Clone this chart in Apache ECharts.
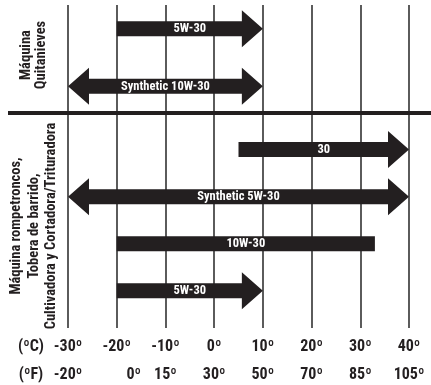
<!DOCTYPE html>
<html>
<head>
<meta charset="utf-8">
<script src="https://cdn.jsdelivr.net/npm/echarts@6/dist/echarts.min.js"></script>
<style>html,body{margin:0;padding:0;background:#fff}#c{width:431px;height:385px}</style>
</head>
<body>
<div id="c"></div>
<script>
// ---- data ----
const tempTicksC = [-30, -20, -10, 0, 10, 20, 30, 40];
const labelsC = ['-30º', '-20º', '-10º', '0º', '10º', '20º', '30º', '40º'];
const labelsF = ['-20º', '0º', '15º', '30º', '50º', '70º', '85º', '105º'];

const snowGroup = 'Máquina\nQuitanieves';
const snowOils = ['5W-30', 'Synthetic 10W-30'];
const snowStart = [-20, -30];
const snowEnd = [10, 10];
const snowLeftHead = [0, 1];
const snowRightHead = [1, 1];

const otherGroup = 'Máquina rompetroncos,\nTobera de barrido,\nCultivadora y Cortadora/Trituradora';
const otherOils = ['30', 'Synthetic 5W-30', '10W-30', '5W-30'];
const otherStart = [5, -30, -20, -20];
const otherEnd = [40, 40, 33, 10];
const otherLeftHead = [0, 1, 0, 0];
const otherRightHead = [1, 1, 0, 1];

// ---- chart ----
const FONT = '"Roboto Condensed", "Open Sans Condensed", sans-serif';
const INK = '#231f20';

function makeData(names, s, e, lh, rh) {
  return names.map((n, i) => [s[i], e[i], lh[i], rh[i], i]);
}

function arrowRenderer(names) {
  return function (params, api) {
    const row = api.value(4);
    const p0 = api.coord([api.value(0), row]);
    const p1 = api.coord([api.value(1), row]);
    const lh = api.value(2), rh = api.value(3);
    const bh = 7.5, hh = 18.5, hl = 21;
    const cy = p0[1], xl = p0[0], xr = p1[0];
    const pts = [];
    if (lh) { pts.push([xl, cy], [xl + hl, cy - hh], [xl + hl, cy - bh]); } else { pts.push([xl, cy - bh]); }
    if (rh) { pts.push([xr - hl, cy - bh], [xr - hl, cy - hh], [xr, cy], [xr - hl, cy + hh], [xr - hl, cy + bh]); }
    else { pts.push([xr, cy - bh], [xr, cy + bh]); }
    if (lh) { pts.push([xl + hl, cy + bh], [xl + hl, cy + hh]); } else { pts.push([xl, cy + bh]); }
    return {
      type: 'group',
      children: [
        { type: 'polygon', shape: { points: pts }, style: { fill: INK } },
        { type: 'text', style: { text: names[params.dataIndex], x: (xl + xr) / 2, y: cy + 0.5,
            align: 'center', verticalAlign: 'middle', fill: '#fff', font: 'bold 12.5px ' + FONT } }
      ]
    };
  };
}

const hiddenX = (g) => ({ type: 'value', gridIndex: g, min: -30, max: 40, interval: 10, show: false });

const chart = echarts.init(document.getElementById('c'), null, { renderer: 'canvas' });
chart.setOption({
  animation: false,
  backgroundColor: '#fff',
  grid: [
    { left: 68, right: 22, top: 5, bottom: 57 },
    { left: 68, right: 22, top: 0, height: 115 },
    { left: 68, right: 22, top: 126, height: 188.4 }
  ],
  xAxis: [
    { type: 'value', gridIndex: 0, min: -30, max: 40, interval: 10, position: 'bottom',
      axisLine: { show: false }, axisTick: { show: false },
      splitLine: { show: true, lineStyle: { color: '#333', width: 1.6 } },
      axisLabel: { margin: 11, color: INK, fontFamily: FONT, fontWeight: 'bold', fontSize: 16,
        formatter: (v) => labelsC[tempTicksC.indexOf(v)] } },
    { type: 'value', gridIndex: 0, min: -30, max: 40, interval: 10, position: 'bottom', offset: 28,
      axisLine: { show: false }, axisTick: { show: false }, splitLine: { show: false },
      axisLabel: { margin: 11, color: INK, fontFamily: FONT, fontWeight: 'bold', fontSize: 16,
        rich: { sh: { padding: [0, 0, 0, 34], color: INK, fontFamily: FONT, fontWeight: 'bold', fontSize: 16 } },
        formatter: (v) => { const i = tempTicksC.indexOf(v); return i === 1 ? '{sh|' + labelsF[i] + '}' : labelsF[i]; } } },
    hiddenX(1),
    hiddenX(2)
  ],
  yAxis: [
    { type: 'value', gridIndex: 0, show: false, min: 0, max: 1 },
    { type: 'category', gridIndex: 1, show: false, inverse: true, data: snowOils },
    { type: 'category', gridIndex: 2, show: false, inverse: true, data: otherOils }
  ],
  graphic: [
    { type: 'line', shape: { x1: 8, y1: 113, x2: 431, y2: 113 }, style: { stroke: INK, lineWidth: 4 }, z: 10 },
    { type: 'text', x: 34, y: 55, rotation: Math.PI / 2,
      style: { text: snowGroup, align: 'center', verticalAlign: 'middle', fill: INK,
        font: 'bold 14.5px ' + FONT, lineHeight: 15 } },
    { type: 'text', x: 34, y: 226, rotation: Math.PI / 2,
      style: { text: otherGroup, align: 'center', verticalAlign: 'middle', fill: INK,
        font: 'bold 14.5px ' + FONT, lineHeight: 17.5 } },
    { type: 'text', x: 31, y: 347, style: { text: '(ºC)', align: 'center', verticalAlign: 'middle', fill: INK, font: 'bold 16px ' + FONT } },
    { type: 'text', x: 31, y: 375, style: { text: '(ºF)', align: 'center', verticalAlign: 'middle', fill: INK, font: 'bold 16px ' + FONT } }
  ],
  series: [
    { type: 'custom', xAxisIndex: 2, yAxisIndex: 1, encode: { x: [0, 1], y: 4 },
      renderItem: arrowRenderer(snowOils), data: makeData(snowOils, snowStart, snowEnd, snowLeftHead, snowRightHead) },
    { type: 'custom', xAxisIndex: 3, yAxisIndex: 2, encode: { x: [0, 1], y: 4 },
      renderItem: arrowRenderer(otherOils), data: makeData(otherOils, otherStart, otherEnd, otherLeftHead, otherRightHead) }
  ]
});
</script>
</body>
</html>
